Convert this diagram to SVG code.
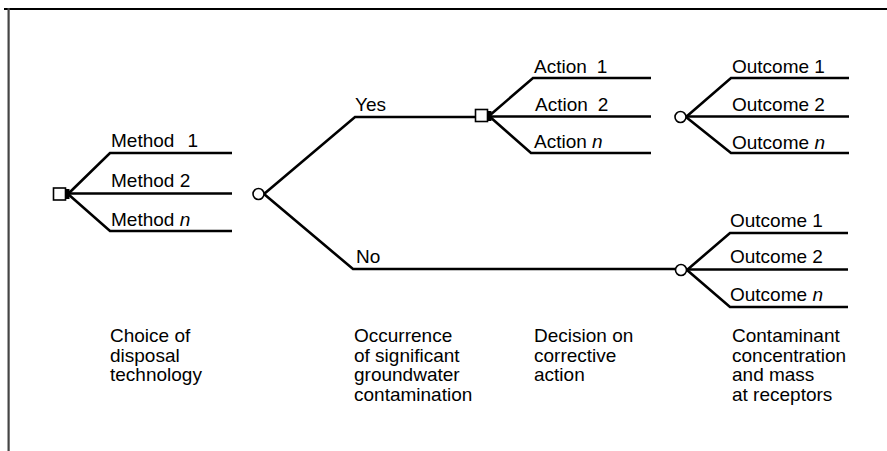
<svg xmlns="http://www.w3.org/2000/svg" width="887" height="451" viewBox="0 0 887 451">
  <style>
    .frame-top { stroke: #000; stroke-width: 1.8; fill: none; }
    .frame-left { stroke: #444; stroke-width: 2.2; fill: none; }
    .branch { stroke: #000; stroke-width: 2.6; fill: none; stroke-linecap: butt; stroke-linejoin: miter; }
    .decision { fill: #fff; stroke: #000; stroke-width: 1.6; }
    .chance { fill: #fff; stroke: #000; stroke-width: 1.6; }
    .hub { fill: #000; }
    text { font-family: "Liberation Sans", Arial, Helvetica, sans-serif; font-size: 19px; fill: #000; }
    .it { font-style: italic; }
  </style>

  <!-- frame -->
  <line class="frame-top" x1="4" y1="9" x2="887" y2="9"/>
  <line class="frame-left" x1="8.6" y1="8" x2="8.6" y2="451"/>

  <!-- connectors (tree branches) -->
  <g id="connectors">
    <!-- disposal methods -->
    <polyline class="branch" points="68,194 110,153 232,153"/>
    <line class="branch" x1="66" y1="193.5" x2="232" y2="193.5"/>
    <polyline class="branch" points="68,194 110,231 232,231"/>
    <!-- contamination occurs: yes / no -->
    <polyline class="branch" points="264,194 355,117 475,117"/>
    <polyline class="branch" points="264,194 353,269 675,269"/>
    <!-- corrective actions -->
    <polyline class="branch" points="489,116 533,78 651,78"/>
    <line class="branch" x1="488" y1="116.5" x2="651" y2="116.5"/>
    <polyline class="branch" points="489,116 531,153 651,153"/>
    <!-- outcomes after corrective action -->
    <polyline class="branch" points="686,117 731,78 849,78"/>
    <line class="branch" x1="686" y1="116.5" x2="849" y2="116.5"/>
    <polyline class="branch" points="686,117 731,153 849,153"/>
    <!-- outcomes without corrective action -->
    <polyline class="branch" points="687,270 730,233 848,233"/>
    <line class="branch" x1="687" y1="269.5" x2="848" y2="269.5"/>
    <polyline class="branch" points="687,270 730,307 848,307"/>
  </g>

  <!-- decision node: disposal technology -->
  <g id="node-disposal">
    <rect class="decision" x="53.5" y="188" width="12" height="12"/>
    <rect class="hub" x="65.5" y="189" width="4" height="10"/>
    <text x="111" y="147">Method<tspan dx="13">1</tspan></text>
    <text x="111" y="187">Method 2</text>
    <text x="111" y="226">Method <tspan class="it">n</tspan></text>
  </g>

  <!-- chance node: groundwater contamination -->
  <g id="node-contamination">
    <circle class="chance" cx="258.5" cy="194" r="5.5"/>
    <text x="355" y="111">Yes</text>
    <text x="356" y="263">No</text>
  </g>

  <!-- decision node: corrective action -->
  <g id="node-corrective">
    <rect class="decision" x="475.5" y="109.5" width="12" height="12"/>
    <rect class="hub" x="487.5" y="111" width="4" height="10"/>
    <text x="534" y="73">Action<tspan dx="10">1</tspan></text>
    <text x="535" y="111">Action<tspan dx="10">2</tspan></text>
    <text x="534" y="148">Action <tspan class="it">n</tspan></text>
  </g>

  <!-- chance node: outcomes with corrective action -->
  <g id="node-outcome-yes">
    <circle class="chance" cx="680.5" cy="117" r="5.5"/>
    <text x="732" y="73">Outcome 1</text>
    <text x="732" y="111">Outcome 2</text>
    <text x="732" y="149">Outcome <tspan class="it">n</tspan></text>
  </g>

  <!-- chance node: outcomes without corrective action -->
  <g id="node-outcome-no">
    <circle class="chance" cx="681" cy="270" r="5.5"/>
    <text x="730" y="227">Outcome 1</text>
    <text x="730" y="263">Outcome 2</text>
    <text x="730" y="301">Outcome <tspan class="it">n</tspan></text>
  </g>

  <!-- stage captions -->
  <g id="captions">
    <text x="110" y="342">Choice of<tspan x="110" y="361.5">disposal</tspan><tspan x="110" y="381">technology</tspan></text>
    <text x="354" y="342">Occurrence<tspan x="354" y="361.5">of significant</tspan><tspan x="354" y="381">groundwater</tspan><tspan x="354" y="400.5">contamination</tspan></text>
    <text x="534" y="342">Decision on<tspan x="534" y="361.5">corrective</tspan><tspan x="534" y="381">action</tspan></text>
    <text x="732" y="342">Contaminant<tspan x="732" y="361.5">concentration</tspan><tspan x="732" y="381">and mass</tspan><tspan x="732" y="400.5">at receptors</tspan></text>
  </g>
</svg>
